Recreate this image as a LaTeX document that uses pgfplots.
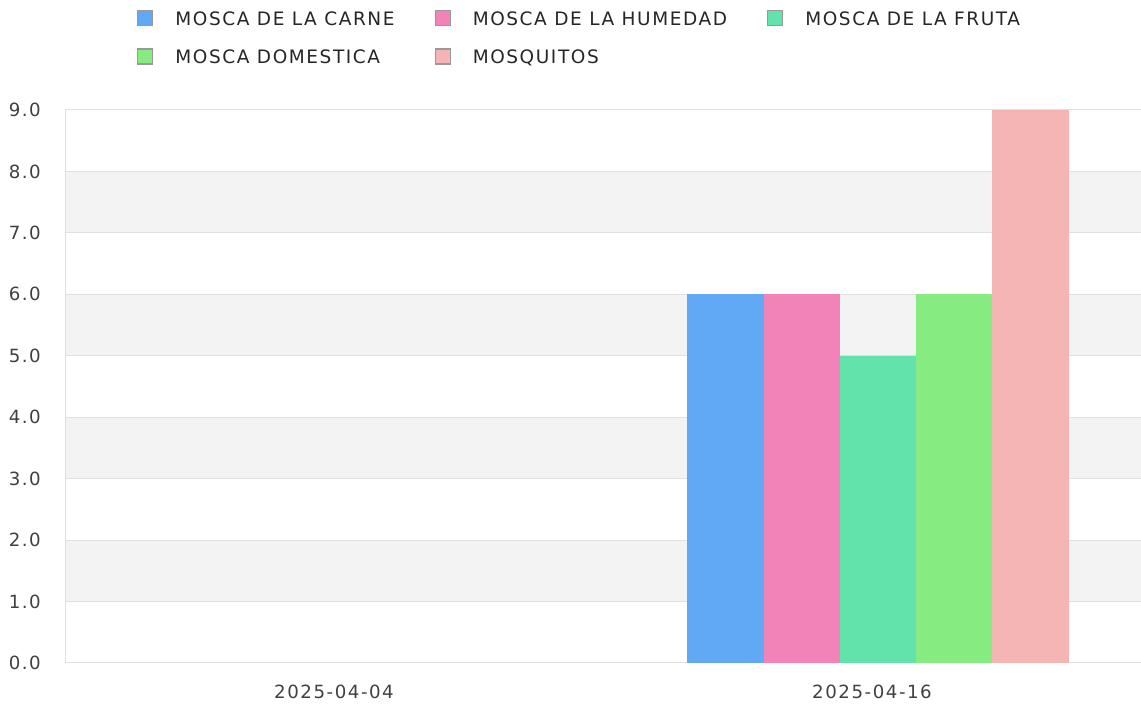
\documentclass[border=0pt]{standalone}
\usepackage{pgfplots}
\pgfplotsset{compat=1.18}
\usepackage{fontspec}
\setmainfont{DejaVu Sans}[LetterSpace=8.5]
\definecolor{cA}{HTML}{62A9F5}
\definecolor{cB}{HTML}{F283B9}
\definecolor{cC}{HTML}{62E3AB}
\definecolor{cD}{HTML}{86EB80}
\definecolor{cE}{HTML}{F6B5B5}
\definecolor{band}{HTML}{F3F3F3}
\definecolor{gridc}{HTML}{E0E0E0}
\definecolor{txt}{HTML}{404040}
\definecolor{legtxt}{HTML}{262626}
\begin{document}
\begin{tikzpicture}
\begin{axis}[
  set layers=standard,
  at={(65pt,43pt)}, anchor=south west,
  scale only axis, width=1076pt, height=553pt,
  xmin=-0.5, xmax=1.5, ymin=0, ymax=9,
  ybar=0pt, bar width=76.2pt,
  every axis plot post/.append style={xshift=6pt,
    legend image code/.code={\draw[##1, draw=black!40, line width=1.2pt] (0pt,-7.5pt) rectangle (15pt,7.5pt);}},
  xtick={0,1}, xticklabels={2025-04-04,2025-04-16},
  ytick={0,1,2,3,4,5,6,7,8,9},
  /pgf/number format/assume math mode=true,
  yticklabel style={/pgf/number format/fixed, /pgf/number format/fixed zerofill, /pgf/number format/precision=1, inner sep=0pt, anchor=east, xshift=-24pt},
  xticklabel style={inner sep=0pt, anchor=north, yshift=-22pt},
  major tick length=0pt,
  ymajorgrids, grid style={gridc, line width=1pt},
  axis lines*=left, axis line style={gridc, line width=1pt, -},
  tick label style={font=\fontsize{18.2}{21}\selectfont, text=txt},
  legend columns=3,
  legend cell align=left,
  legend style={draw=none, fill=none, inner sep=0pt, at={(0.0669,1.1808)}, anchor=north west,
    font=\fontsize{18.5}{21}\selectfont, text=legtxt, row sep=22pt,
    /tikz/every even column/.append style={column sep=40pt},
    nodes={inner ysep=0pt, inner xsep=0pt, text depth=0pt}},
]
\begin{pgfonlayer}{axis background}
\fill[band] (axis cs:-0.5,1) rectangle (axis cs:1.5,2);
\fill[band] (axis cs:-0.5,3) rectangle (axis cs:1.5,4);
\fill[band] (axis cs:-0.5,5) rectangle (axis cs:1.5,6);
\fill[band] (axis cs:-0.5,7) rectangle (axis cs:1.5,8);
\end{pgfonlayer}
\addplot[fill=cA, draw=none] coordinates {(1,6)};
\addlegendentry{\hspace{22pt}MOSCA DE LA CARNE}
\addplot[fill=cB, draw=none] coordinates {(1,6)};
\addlegendentry{\hspace{22pt}MOSCA DE LA HUMEDAD}
\addplot[fill=cC, draw=none] coordinates {(1,5)};
\addlegendentry{\hspace{22pt}MOSCA DE LA FRUTA}
\addplot[fill=cD, draw=none] coordinates {(1,6)};
\addlegendentry{\hspace{22pt}MOSCA DOMESTICA}
\addplot[fill=cE, draw=none] coordinates {(1,9)};
\addlegendentry{\hspace{22pt}MOSQUITOS}
\end{axis}
\pgfresetboundingbox
\path[use as bounding box] (0,0) rectangle (1141pt,706pt);
\end{tikzpicture}
\end{document}
